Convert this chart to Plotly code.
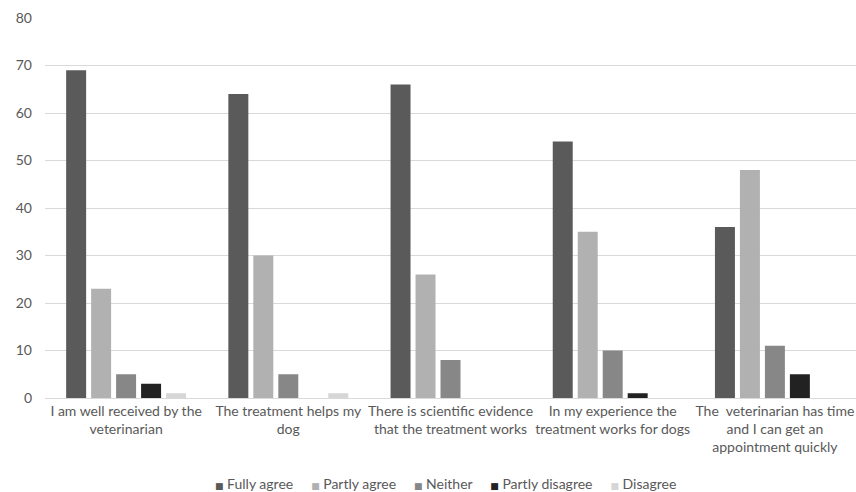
import plotly.graph_objects as go

categories = [
    "I am well received by the<br>veterinarian",
    "The treatment helps my<br>dog",
    "There is scientific evidence<br>that the treatment works",
    "In my experience the<br>treatment works for dogs",
    "The  veterinarian has time<br>and I can get an<br>appointment quickly",
]
fully_agree = [69, 64, 66, 54, 36]
partly_agree = [23, 30, 26, 35, 48]
neither = [5, 5, 8, 10, 11]
partly_disagree = [3, 0, 0, 1, 5]
disagree = [1, 1, 0, 0, 0]

series = [
    ("Fully agree", fully_agree, "#5a5a5a"),
    ("Partly agree", partly_agree, "#b1b1b1"),
    ("Neither", neither, "#878787"),
    ("Partly disagree", partly_disagree, "#222222"),
    ("Disagree", disagree, "#d6d6d6"),
]

font_family = "Lato, 'Open Sans', sans-serif"
text_color = "#595959"

fig = go.Figure()
for name, vals, color in series:
    fig.add_trace(go.Bar(
        x=categories, y=vals, name=name,
        marker=dict(color=color, line=dict(width=0)),
    ))

# Compact legend row built as text: a coloured square followed by each series name
gap = "&nbsp;" * 5
legend_text = gap.join(
    f"<span style='color:{color};font-family:DejaVu Sans;font-size:9px'>■</span>&nbsp;{name}"
    for name, _, color in series
)

fig.update_layout(
    width=856, height=492,
    margin=dict(l=45, r=0, t=18, b=94),
    paper_bgcolor="white", plot_bgcolor="white",
    barmode="group", bargap=0.23, bargroupgap=0.2,
    font=dict(family=font_family, size=14, color=text_color),
    showlegend=False,
    annotations=[dict(
        text=legend_text, xref="paper", yref="paper",
        x=0.494, xanchor="center", y=-0.226, yanchor="middle",
        showarrow=False, font=dict(size=14, color=text_color),
    )],
)
fig.update_xaxes(showgrid=False, showline=False, ticks="", automargin=False,
                 ticklabelstandoff=3, tickfont=dict(size=14, color=text_color))
fig.update_yaxes(range=[0, 80], dtick=10, showgrid=True, gridcolor="#d9d9d9", gridwidth=1,
                 zeroline=True, zerolinecolor="#d9d9d9", zerolinewidth=1,
                 showline=False, ticks="", ticklabelstandoff=12, automargin=False,
                 tickfont=dict(size=14, color=text_color))

fig.write_html("out.html")
